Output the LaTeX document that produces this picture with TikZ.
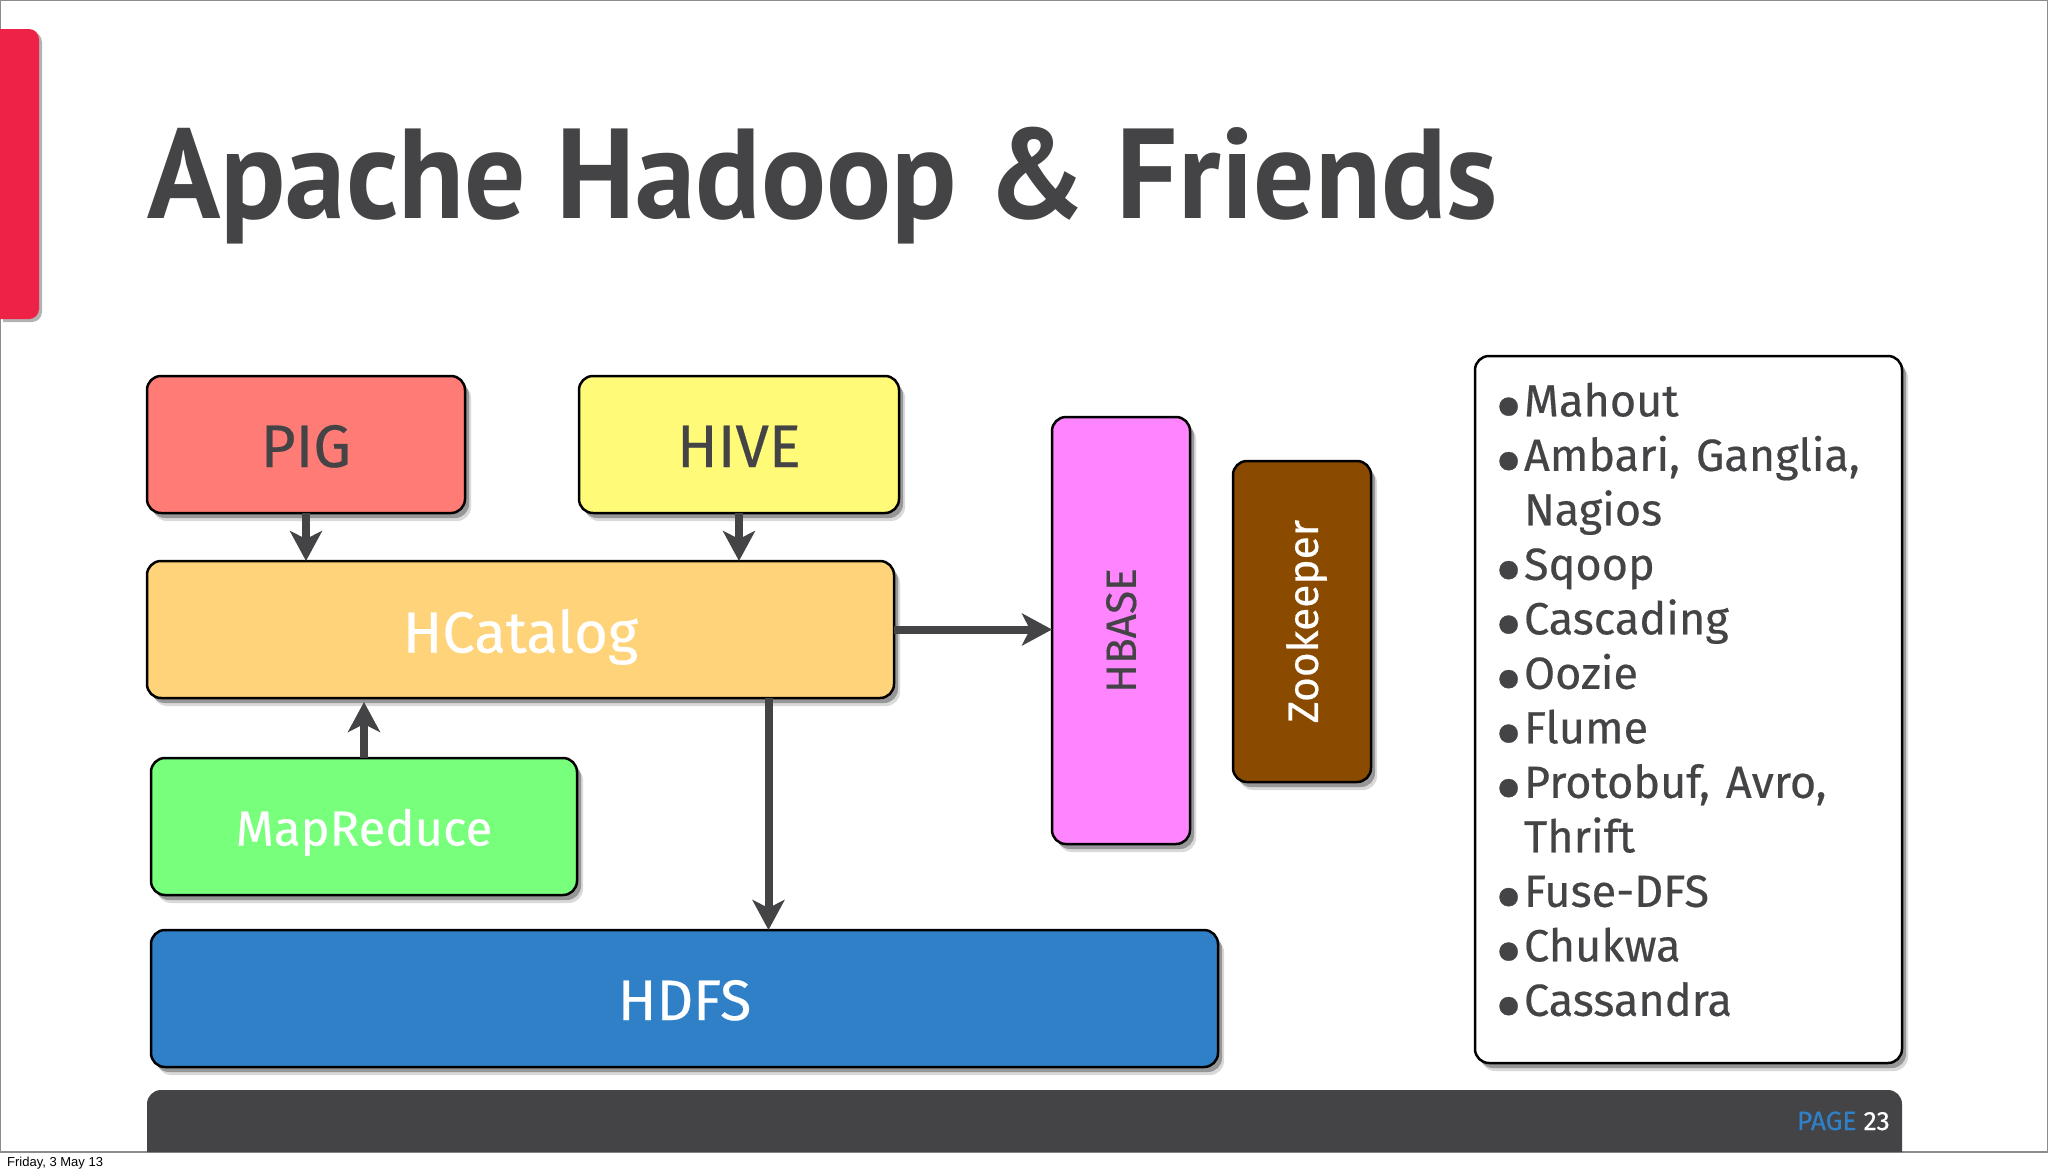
\documentclass[tikz,border=0pt]{standalone}
\usepackage{fontspec}
\setmainfont{Fira Sans}[FakeBold=0.4]
\newfontfamily\titlefont{PT Sans}
\usepackage{tikz}
\usetikzlibrary{arrows.meta,positioning,shadows}
\definecolor{inkgrey}{HTML}{444346}
\definecolor{pagered}{HTML}{EE2247}
\definecolor{pigred}{HTML}{FF7B76}
\definecolor{hiveyellow}{HTML}{FFFB78}
\definecolor{catorange}{HTML}{FFD37A}
\definecolor{mrgreen}{HTML}{78FF7B}
\definecolor{hdfsblue}{HTML}{3080C8}
\definecolor{hbasepink}{HTML}{FF85FF}
\definecolor{zoobrown}{HTML}{8A4B00}
\newcommand{\bul}{\makebox[25pt][l]{\hspace*{-3.5pt}\raisebox{-18pt}[0pt][0pt]{\scalebox{1.8}{\textbullet}}}}
\newcommand{\sz}[2]{\fontsize{#1}{#2}\selectfont}
\newcommand{\uplabel}[1]{\rotatebox{90}{\raisebox{0pt}[\height][0pt]{#1}}}

\begin{document}
\begin{tikzpicture}[x=1pt,y=-1pt,->,>={Stealth[length=30pt,width=32pt,inset=8pt]},
  main node/.style={rectangle,rounded corners=14pt,draw=black,line width=2.5pt,outer sep=0pt,inner sep=0pt,
    drop shadow={shadow xshift=6pt,shadow yshift=-8pt,fill=black,opacity=.15},
    drop shadow={shadow xshift=4pt,shadow yshift=-5pt,fill=black,opacity=.3},font=\sz{60}{70},text=inkgrey},
  side node/.style={main node,minimum width=138pt,font=\sz{42.5}{48}},
  wide node/.style={main node,minimum height=137pt,text height=45pt,text depth=0pt}]
  \useasboundingbox (0,0) rectangle (2048,1173);
  \draw[-,line width=1.5pt,draw=gray!90] (0,0) rectangle (2047.5,1152);
  % slide furniture
  \fill[pagered,drop shadow={shadow xshift=3pt,shadow yshift=-3pt,fill=black,opacity=.3}]
    (0,29) [rounded corners=10pt] -- (39,29) -- (39,319) [sharp corners] -- (0,319) -- cycle;
  \fill[inkgrey] (147,1152) [rounded corners=14pt] -- (147,1090) -- (1902,1090) [sharp corners] -- (1902,1152) -- cycle;
  \node[anchor=base west,inner sep=0pt,text=inkgrey,font=\titlefont\sz{128}{140}\bfseries] (title) at (147,218) {\scalebox{.947}[1]{Apache Hadoop \& Friends}};
  \node[anchor=base east,inner sep=0pt,font=\sz{26.5}{28}] (page) at (1890,1130) {\textcolor{hdfsblue}{PAGE} \textcolor{white}{23}};
  \node[anchor=base west,inner sep=0pt,font=\fontspec{Liberation Sans}\sz{13}{16}] (date) at (7,1166) {Friday, 3 May 13};
  % the blocks
  \node[wide node,fill=pigred,minimum width=318pt] (pig) at (306,444.5) {PIG};
  \node[wide node,fill=hiveyellow,minimum width=320pt] (hive) [right=114pt of pig] {HIVE};
  \node[wide node,fill=catorange,minimum width=747pt,text=white,font=\sz{58}{70},text height=46pt] (hcatalog) [below=48pt of pig.south west,anchor=north west] {HCatalog};
  \node[wide node,fill=mrgreen,minimum width=426pt,text=white,font=\sz{49}{60},text height=38pt] (mapreduce) [below=60pt of hcatalog.south west,anchor=north west,xshift=4pt] {MapReduce};
  \node[wide node,fill=hdfsblue,minimum width=1067pt,text=white,font=\sz{57}{70},text height=43pt] (hdfs) [below=35pt of mapreduce.south west,anchor=north west] {HDFS};
  \node[side node,fill=hbasepink,minimum height=427pt] (hbase) [right=158pt of hcatalog,yshift=-1pt] {\uplabel{HBASE}};
  \node[side node,fill=zoobrown,minimum height=321pt,text=white] (zookeeper) [right=43pt of hbase.north east,anchor=north west,yshift=-44pt] {\uplabel{Zookeeper}};
  \node[main node,fill=white,minimum width=427pt,minimum height=707pt,text width=379pt,align=left,font=\sz{45}{54.5}] (others) at (1688.5,709.5) {%
    \spaceskip=16pt\relax
    \bul Mahout\\\bul Ambari, Ganglia,\\\hspace*{25pt}Nagios\\\bul Sqoop\\\bul Cascading\\\bul Oozie\\\bul Flume\\%
    \bul Protobuf, Avro,\\\hspace*{25pt}Thrift\\\bul Fuse-DFS\\\bul Chukwa\\\bul Cassandra\vspace*{20pt}};
  % connectors
  \path[line width=8pt,every edge/.append style={draw=inkgrey}]
    (pig) edge (pig |- hcatalog.north)
    (hive) edge (hive |- hcatalog.north)
    (hcatalog) edge (hcatalog -| hbase.west)
    (mapreduce) edge[shorten >=4pt] (mapreduce |- hcatalog.south)
    ([xshift=248pt]hcatalog.south) edge ([xshift=248pt]hcatalog.south |- hdfs.north);
\end{tikzpicture}
\end{document}
